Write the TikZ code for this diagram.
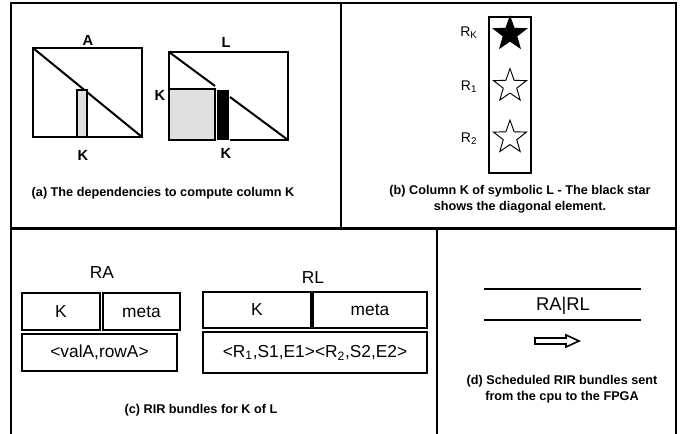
\documentclass[tikz,border=0pt]{standalone}
\usepackage{fontspec}
\setmainfont{Liberation Sans}
\usetikzlibrary{shapes.geometric}
\begin{document}
\begin{tikzpicture}[x=0.75pt,y=-0.75pt,
  frame/.style={line width=1.9pt,line join=miter},
  thick line/.style={line width=1.5pt},
  lbl/.style={font=\fontsize{11}{13}\selectfont\bfseries,inner sep=0pt},
  captext/.style={font=\fontsize{9.5}{11.8}\selectfont\bfseries,align=center,inner sep=0pt},
  txt/.style={font=\fontsize{13}{15}\selectfont,inner sep=0pt},
  rlbl/.style={font=\fontsize{10.5}{12}\selectfont,inner sep=0pt},
  starshape/.style={star,star points=5,star point ratio=2.45,minimum size=26pt,inner sep=0pt,draw,line width=0.7pt},
  lightfill/.style={fill=black!12}]
\useasboundingbox (0,0) rectangle (686,434);
% frame
\draw[frame] (11,434) -- (11,3) -- (676,3) -- (676,434);
\draw[frame] (11,228.5) -- (676,228.5);
\draw[frame] (341,3) -- (341,228.5);
\draw[frame] (437,228.5) -- (437,434);
% ---------- panel (a)
\draw[thick line] (33,48) rectangle (142,137);
\draw[thick line] (33,48) -- (142,137);
\draw[thick line,lightfill] (77,90) rectangle (87,137);
\node[lbl] (labA) at (88,40) {A};
\node[lbl] (labKa) at (83,155) {K};
% L
\draw[thick line] (169,140) -- (169,52) -- (288,52) -- (288,140) -- (230,140);
\draw[thick line] (169,52) -- (215,86);
\draw[thick line] (230,97) -- (288,140);
\draw[thick line,lightfill] (169,89) rectangle (215,140);
\draw[thick line,fill=black] (218,91) rectangle (228,139);
\node[lbl] (labL) at (226,42) {L};
\node[lbl] (labKl) at (160,95) {K};
\node[lbl] (labKb) at (226,153) {K};
\node[captext] (capa) at (163,193) {(a) The dependencies to compute column K};
% ---------- panel (b)
\draw[thick line] (489,17) rectangle (531,173);
\node[starshape,fill=black] (s0) at (510,34) {};
\node[starshape] (s1) at (510,86) {};
\node[starshape] (s2) at (510,137.5) {};
\node[rlbl] (rk) at (469,33) {R\textsubscript{K}};
\node[rlbl] (r1) at (469,87) {R\textsubscript{1}};
\node[rlbl] (r2) at (469,139) {R\textsubscript{2}};
\node[captext] (capb) at (520,199) {(b) Column K of symbolic L - The black star\\shows the diagonal element.};
% ---------- panel (c)
\node[txt] (ra) at (102,273) {RA};
\draw[thick line] (22,293) rectangle node[txt] (raK) {K} (100,330);
\draw[thick line] (103,293) rectangle node[txt] (raM) {meta} (180,330);
\draw[thick line] (22,334) rectangle node[txt] (raV) {<valA,rowA>} (177,371);
\node[txt] (rl) at (313,278) {RL};
\draw[thick line] (203,292) rectangle node[txt] (rlK) {K} (311,328);
\draw[thick line] (313,292) rectangle node[txt] (rlM) {meta} (427,328);
\draw[thick line] (203,332) rectangle node[txt] (rlV) {<R\textsubscript{1},S1,E1><R\textsubscript{2},S2,E2>} (427,373);
\node[captext] (capc) at (201,410) {(c) RIR bundles for K of L};
% ---------- panel (d)
\coordinate (t1) at (484,289);
\coordinate (t2) at (641,289);
\coordinate (b1) at (484,320);
\coordinate (b2) at (641,320);
\draw[thick line] (t1) -- (t2);
\draw[thick line] (b1) -- (b2);
\node[font=\fontsize{13.8}{15}\selectfont,inner sep=0pt] (rarl) at (563,306) {RA|RL};
\draw[line width=1.2pt,line join=miter] (535,338) -- (566,338) -- (566,335) -- (579,341) -- (566,347) -- (566,344) -- (535,344) -- cycle;
\node[captext] (capd) at (562,389.5) {(d) Scheduled RIR bundles sent\\from the cpu to the FPGA};
\end{tikzpicture}
\end{document}
